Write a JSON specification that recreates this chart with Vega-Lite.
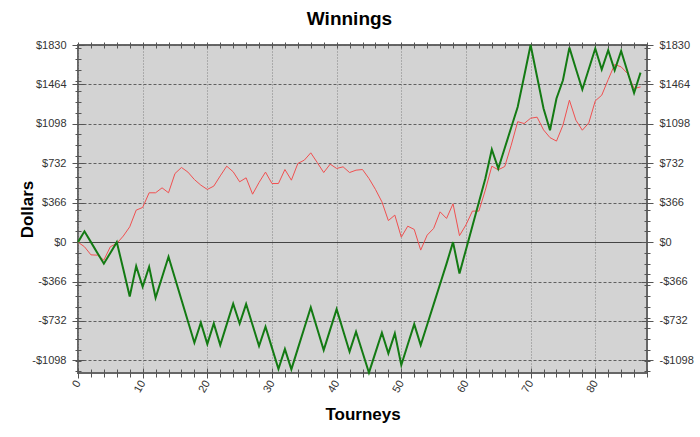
{
  "$schema": "https://vega.github.io/schema/vega-lite/v6.json",
  "width": 569,
  "height": 328,
  "autosize": {"type": "none"},
  "padding": {"left": 78, "top": 45, "right": 53, "bottom": 64},
  "background": "white",
  "title": {"text": "Winnings", "font": "Liberation Sans", "fontSize": 19, "fontWeight": "bold", "color": "#000000", "anchor": "middle", "frame": "group", "offset": 10, "dx": -13},
  "config": {
    "view": {"fill": "#d3d3d3", "stroke": "#666666", "strokeWidth": 2},
    "axis": {"domain": false, "labelFont": "Liberation Sans", "labelFontSize": 11, "labelColor": "#333333", "titleFont": "Liberation Sans", "titleFontSize": 17, "titleFontWeight": "bold", "titleColor": "#000000", "tickColor": "#555555", "tickWidth": 1}
  },
  "data": {"values": [
    {"t":0,"red":0,"green":0},{"t":1,"red":-43,"green":100},{"t":2,"red":-118,"green":0},{"t":3,"red":-121,"green":-100},{"t":4,"red":-167,"green":-200},
    {"t":5,"red":-43,"green":-100},{"t":6,"red":-12,"green":0},{"t":7,"red":56,"green":-250},{"t":8,"red":142,"green":-505},{"t":9,"red":297,"green":-223},
    {"t":10,"red":322,"green":-414},{"t":11,"red":458,"green":-229},{"t":12,"red":458,"green":-516},{"t":13,"red":504,"green":-326},{"t":14,"red":458,"green":-136},
    {"t":15,"red":637,"green":-335},{"t":16,"red":693,"green":-535},{"t":17,"red":650,"green":-735},{"t":18,"red":581,"green":-934},{"t":19,"red":529,"green":-748},
    {"t":20,"red":489,"green":-946},{"t":21,"red":520,"green":-755},{"t":22,"red":615,"green":-956},{"t":23,"red":705,"green":-764},{"t":24,"red":653,"green":-572},
    {"t":25,"red":560,"green":-755},{"t":26,"red":597,"green":-575},{"t":27,"red":445,"green":-770},{"t":28,"red":554,"green":-965},{"t":29,"red":650,"green":-786},
    {"t":30,"red":544,"green":-982},{"t":31,"red":544,"green":-1178},{"t":32,"red":674,"green":-993},{"t":33,"red":575,"green":-1181},{"t":34,"red":730,"green":-989},
    {"t":35,"red":761,"green":-797},{"t":36,"red":829,"green":-606},{"t":37,"red":739,"green":-804},{"t":38,"red":646,"green":-1002},{"t":39,"red":724,"green":-812},
    {"t":40,"red":684,"green":-622},{"t":41,"red":699,"green":-820},{"t":42,"red":646,"green":-1017},{"t":43,"red":668,"green":-832},{"t":44,"red":674,"green":-1022},
    {"t":45,"red":591,"green":-1212},{"t":46,"red":490,"green":-1026},{"t":47,"red":374,"green":-841},{"t":48,"red":200,"green":-1033},{"t":49,"red":251,"green":-847},
    {"t":50,"red":46,"green":-1141},{"t":51,"red":148,"green":-951},{"t":52,"red":118,"green":-761},{"t":53,"red":-74,"green":-956},{"t":54,"red":65,"green":-767},
    {"t":55,"red":127,"green":-578},{"t":56,"red":281,"green":-389},{"t":57,"red":220,"green":-200},{"t":58,"red":356,"green":0},{"t":59,"red":60,"green":-291},
    {"t":60,"red":160,"green":-70},{"t":61,"red":288,"green":150},{"t":62,"red":288,"green":370},{"t":63,"red":483,"green":590},{"t":64,"red":705,"green":860},
    {"t":65,"red":671,"green":683},{"t":66,"red":702,"green":874},{"t":67,"red":900,"green":1064},{"t":68,"red":1118,"green":1255},{"t":69,"red":1101,"green":1540},
    {"t":70,"red":1150,"green":1830},{"t":71,"red":1160,"green":1535},{"t":72,"red":1042,"green":1240},{"t":73,"red":970,"green":1039},{"t":74,"red":938,"green":1333},
    {"t":75,"red":1086,"green":1503},{"t":76,"red":1318,"green":1806},{"t":77,"red":1132,"green":1610},{"t":78,"red":1039,"green":1417},{"t":79,"red":1107,"green":1607},
    {"t":80,"red":1311,"green":1797},{"t":81,"red":1364,"green":1602},{"t":82,"red":1509,"green":1781},{"t":83,"red":1649,"green":1596},{"t":84,"red":1627,"green":1775},
    {"t":85,"red":1565,"green":1580},{"t":86,"red":1426,"green":1385},{"t":87,"red":1441,"green":1574}
  ]},
  "layer": [
    {
      "mark": {"type": "line", "color": "#f05050", "strokeWidth": 1},
      "encoding": {
        "x": {"field": "t", "type": "quantitative", "scale": {"domain": [0, 88], "nice": false, "zero": false},
          "axis": {"orient": "bottom", "title": "Tourneys", "titlePadding": 12, "values": [0,10,20,30,40,50,60,70,80], "ticks": false, "labelPadding": 8, "labelAngle": -60, "labelAlign": "right", "labelBaseline": "middle", "grid": true, "gridColor": "#808080", "gridDash": [1, 2], "gridWidth": 1}},
        "y": {"field": "red", "type": "quantitative", "scale": {"domain": [-1215, 1830], "nice": false, "zero": false},
          "axis": {"orient": "left", "title": "Dollars", "titlePadding": -5, "values": [-1098,-732,-366,0,366,732,1098,1464,1830], "ticks": false, "labelPadding": 12,
            "labelExpr": "datum.value < 0 ? '-$' + (-datum.value) : '$' + datum.value",
            "grid": true, "gridWidth": 1,
            "gridColor": {"condition": {"test": "datum.value === 0", "value": "#444444"}, "value": "#606060"},
            "gridDash": {"condition": {"test": "datum.value === 0", "value": []}, "value": [3, 2]}}}
      }
    },
    {
      "mark": {"type": "line", "color": "#137a13", "strokeWidth": 2},
      "encoding": {
        "x": {"field": "t", "type": "quantitative", "scale": {"domain": [0, 88], "nice": false, "zero": false},
          "axis": {"orient": "bottom", "title": null, "labels": false, "grid": false, "values": [0,10,20,30,40,50,60,70,80], "offset": -5, "tickSize": 10}},
        "y": {"field": "green", "type": "quantitative", "scale": {"domain": [-1215, 1830], "nice": false, "zero": false},
          "axis": {"orient": "right", "title": null, "values": [-1098,-732,-366,0,366,732,1098,1464,1830], "ticks": false, "labelPadding": 12, "grid": false,
            "labelExpr": "datum.value < 0 ? '-$' + (-datum.value) : '$' + datum.value"}}
      }
    },
    {
      "mark": {"type": "line", "opacity": 0},
      "encoding": {
        "x": {"field": "t", "type": "quantitative", "scale": {"domain": [0, 88], "nice": false, "zero": false},
          "axis": {"orient": "bottom", "title": null, "labels": false, "grid": false, "values": [2,4,6,8,12,14,16,18,22,24,26,28,32,34,36,38,42,44,46,48,52,54,56,58,62,64,66,68,72,74,76,78,82,84,86,88], "offset": -4, "tickSize": 8}},
        "y": {"field": "red", "type": "quantitative", "scale": {"domain": [-1215, 1830], "nice": false, "zero": false},
          "axis": {"orient": "left", "title": null, "labels": false, "grid": false, "values": [-1098,-732,-366,0,366,732,1098,1464,1830], "offset": -6, "tickSize": 12}}
      }
    },
    {
      "mark": {"type": "line", "opacity": 0},
      "encoding": {
        "x": {"field": "t", "type": "quantitative", "scale": {"domain": [0, 88], "nice": false, "zero": false},
          "axis": {"orient": "top", "title": null, "labels": false, "grid": false, "values": [0,2,4,6,8,10,12,14,16,18,20,22,24,26,28,30,32,34,36,38,40,42,44,46,48,50,52,54,56,58,60,62,64,66,68,70,72,74,76,78,80,82,84,86,88], "offset": -3, "tickSize": 6}},
        "y": {"field": "red", "type": "quantitative", "scale": {"domain": [-1215, 1830], "nice": false, "zero": false},
          "axis": {"orient": "left", "title": null, "labels": false, "grid": false, "values": [-1200,-1100,-1000,-900,-800,-700,-600,-500,-400,-300,-200,-100,100,200,300,400,500,600,700,800,900,1000,1100,1200,1300,1400,1500,1600,1700,1800], "offset": -3, "tickSize": 6}}
      }
    },
    {
      "mark": {"type": "line", "opacity": 0},
      "encoding": {
        "x": {"field": "t", "type": "quantitative", "scale": {"domain": [0, 88], "nice": false, "zero": false}, "axis": null},
        "y": {"field": "red", "type": "quantitative", "scale": {"domain": [-1215, 1830], "nice": false, "zero": false},
          "axis": {"orient": "right", "title": null, "labels": false, "grid": false, "values": [-1098,-732,-366,0,366,732,1098,1464,1830], "offset": -6, "tickSize": 12}}
      }
    },
    {
      "mark": {"type": "line", "opacity": 0},
      "encoding": {
        "x": {"field": "t", "type": "quantitative", "scale": {"domain": [0, 88], "nice": false, "zero": false}, "axis": null},
        "y": {"field": "red", "type": "quantitative", "scale": {"domain": [-1215, 1830], "nice": false, "zero": false},
          "axis": {"orient": "right", "title": null, "labels": false, "grid": false, "values": [-1200,-1100,-1000,-900,-800,-700,-600,-500,-400,-300,-200,-100,100,200,300,400,500,600,700,800,900,1000,1100,1200,1300,1400,1500,1600,1700,1800], "offset": -3, "tickSize": 6}}
      }
    }
  ],
  "resolve": {"axis": {"x": "independent", "y": "independent"}}
}
